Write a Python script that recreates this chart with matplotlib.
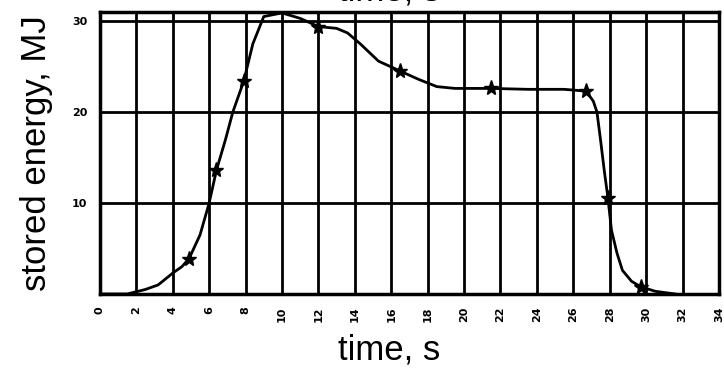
import matplotlib.pyplot as plt

# stored energy curve (time in s, energy in MJ)
time_s = [0, 1.5, 2.5, 3.2, 4.0, 4.5, 4.9, 5.5, 6.0, 6.4, 6.9, 7.3, 7.9, 8.4, 9.0,
          10.0, 11.0, 12.0, 13.0, 13.6, 14.3, 15.3, 16.5, 17.5, 18.5, 19.5,
          21.5, 23.5, 25.5, 26.7, 27.1, 27.3, 27.5, 27.7, 27.9, 28.1, 28.4,
          28.7, 29.2, 29.7, 30.5, 31.6]
energy_mj = [0, 0, 0.5, 1.0, 2.3, 3.0, 3.9, 6.5, 10.0, 13.6, 17.0, 20.0, 23.4, 27.5, 30.5,
             30.9, 30.3, 29.4, 29.2, 28.7, 27.5, 25.6, 24.5, 23.6, 22.8, 22.6,
             22.6, 22.5, 22.5, 22.3, 21.2, 20.0, 16.9, 13.6, 10.6, 7.0, 4.5,
             2.6, 1.4, 0.8, 0.3, 0]

# points that carry a star marker
marker_time = [4.9, 6.4, 7.9, 12.0, 16.5, 21.5, 26.7, 27.9, 29.7]
marker_energy = [3.9, 13.6, 23.4, 29.4, 24.5, 22.6, 22.3, 10.6, 0.8]

x_ticks = list(range(0, 36, 2))
y_ticks = [10, 20, 30]

fig = plt.figure(figsize=(7.24, 3.75), dpi=100)
ax = fig.add_axes([0.138, 0.216, 0.855, 0.752])

ax.plot(time_s, energy_mj, color='black', linewidth=2)
ax.plot(marker_time, marker_energy, linestyle='none', marker='*',
        markersize=11, color='black')

ax.set_xlim(0, 34)
ax.set_ylim(0, 31)
ax.set_xticks(x_ticks)
ax.set_xticklabels([str(t) for t in x_ticks], rotation=90, fontsize=8,
                   fontweight='bold')
ax.set_yticks(y_ticks)
ax.set_yticklabels([str(t) for t in y_ticks], fontsize=8, fontweight='bold')
ax.tick_params(length=0, pad=9)
ax.grid(True, color='black', linewidth=2)

for side in ax.spines.values():
    side.set_linewidth(2.5)

ax.set_xlabel('time, s', fontsize=25, family='Liberation Sans', labelpad=8,
              x=0.467)
ax.set_ylabel('stored energy, MJ', fontsize=25, family='Liberation Sans',
              labelpad=14)
# top copy of the axis label, mostly cut off by the figure edge
fig.text(0.537, 0.998, 'time, s', fontsize=25, family='Liberation Sans',
         ha='center', va='baseline')

fig.savefig('out.png', dpi=100)
